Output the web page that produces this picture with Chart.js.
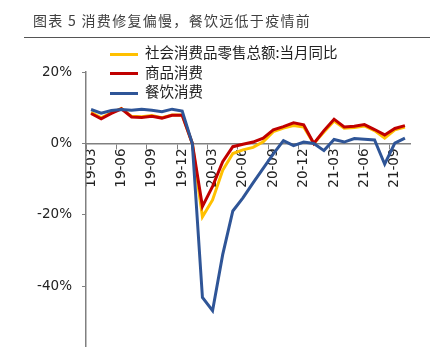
<!DOCTYPE html>
<html>
<head>
<meta charset="utf-8">
<script src="https://cdn.jsdelivr.net/npm/chart.js@4"></script>
<style>
  html, body { margin: 0; padding: 0; background: #fff; overflow: hidden; }
  #page { position: relative; width: 442px; height: 347px; overflow: hidden; }
  #titre {
    position: absolute; left: 24px; top: 9px; width: 406px;
    font: 14px "Noto Sans CJK SC", sans-serif; color: #404040; letter-spacing: 1.3px;
    padding-left: 9px; box-sizing: border-box; white-space: pre;
    border-bottom: 1px solid #555; height: 29px; line-height: 22px;
  }
  #legende { position: absolute; left: 110px; top: 42px; font: 14.5px "Noto Sans CJK SC", sans-serif; color: #222; }
  .ligne { height: 19.5px; line-height: 19.5px; white-space: nowrap; }
  .trait { display: inline-block; width: 28px; height: 3px; vertical-align: middle; margin-right: 7px; }
  #boite { position: absolute; left: 0; top: 0; width: 442px; height: 376px; }
</style>
</head>
<body>
<div id="page">
  <div id="boite"><canvas id="myChart"></canvas></div>
  <div id="titre">图表 5 消费修复偏慢，餐饮远低于疫情前</div>
  <div id="legende"></div>
</div>
<script>
// mois de 19-03 à 21-10
const mois = [
    "19-03","19-04","19-05","19-06","19-07","19-08","19-09","19-10","19-11","19-12",
    "20-01","20-02","20-03","20-04","20-05","20-06","20-07","20-08","20-09","20-10","20-11","20-12",
    "21-01","21-02","21-03","21-04","21-05","21-06","21-07","21-08","21-09","21-10"
];

// 社会消费品零售总额:当月同比 (%)
const dataTotal = [
    8.7, 7.2, 8.6, 9.8, 7.6, 7.5, 7.8, 7.2, 8.0, 8.0,
    0, -20.5, -15.8, -7.5, -2.8, -1.8, -1.1, 0.5, 3.3, 4.3, 5.0, 4.6,
    0, 3.2, 6.3, 4.3, 4.5, 4.9, 3.6, 1.5, 3.8, 4.6
];

// 商品消费 (%)
const dataBiens = [
    8.4, 6.9, 8.4, 9.7, 7.4, 7.3, 7.6, 7.1, 7.9, 7.9,
    0, -17.6, -12.0, -5.1, -0.9, -0.2, 0.4, 1.5, 3.8, 4.7, 5.8, 5.2,
    0, 3.6, 6.8, 4.6, 4.8, 5.3, 3.9, 2.4, 4.2, 5.0
];

// 餐饮消费 (%)
const dataResto = [
    9.5, 8.5, 9.2, 9.5, 9.3, 9.6, 9.3, 8.9, 9.6, 9.1,
    0, -43.1, -46.8, -31.1, -18.9, -15.2, -11.0, -7.0, -2.9, 0.8, -0.6, 0.4,
    0, -2.0, 1.1, 0.4, 1.4, 1.2, 1.0, -5.8, 0.1, 1.5
];

const ticksY = [20, 0, -20, -40, -60];

const series = [
    { label: "社会消费品零售总额:当月同比", couleur: "#FFC000", data: dataTotal, ordre: 2 },
    { label: "商品消费", couleur: "#C00000", data: dataBiens, ordre: 1 },
    { label: "餐饮消费", couleur: "#2F5597", data: dataResto, ordre: 0 }
];

// légende en html
const legende = document.getElementById("legende");
series.forEach(s => {
    let div = document.createElement("div");
    div.className = "ligne";
    div.innerHTML = '<span class="trait" style="background:' + s.couleur + '"></span>' + s.label;
    legende.appendChild(div);
});

const gris = "#808080";
const police = { family: "'DejaVu Sans', sans-serif", size: 13.5 };
const estTrimestre = i => ["03","06","09","12"].includes(mois[i].slice(3));

const config = {
    type: "line",
    data: {
        labels: mois,
        datasets: series.map(s => ({
            label: s.label,
            data: s.data,
            borderColor: s.couleur,
            backgroundColor: s.couleur,
            borderWidth: 3,
            pointRadius: 0,
            tension: 0,
            order: s.ordre
        }))
    },
    options: {
        responsive: true,
        maintainAspectRatio: false,
        animation: false,
        layout: { padding: { top: 72, right: 32, bottom: 4, left: 0 } },
        plugins: {
            legend: { display: false },
            tooltip: { enabled: false }
        },
        scales: {
            x: {
                position: { y: 0 },
                offset: true,
                border: { display: true, color: gris, width: 1.5 },
                grid: {
                    offset: true,
                    drawOnChartArea: false,
                    tickLength: 5,
                    color: ctx => (ctx.index !== undefined && ctx.index < mois.length && estTrimestre(ctx.index)) ? gris : "rgba(0,0,0,0)"
                },
                ticks: {
                    autoSkip: false,
                    maxRotation: 90,
                    minRotation: 90,
                    padding: 0,
                    color: "#222",
                    font: police,
                    callback: function (val, i) { return estTrimestre(i) ? mois[i] : ""; }
                }
            },
            y: {
                min: -60,
                max: 20,
                afterBuildTicks: scale => { scale.ticks = ticksY.map(v => ({ value: v })); },
                afterFit: scale => { scale.width = 86; },
                border: { display: true, color: gris, width: 1.5 },
                grid: { drawOnChartArea: false, tickLength: 4, color: gris },
                ticks: {
                    padding: 10,
                    color: "#222",
                    font: police,
                    callback: v => v === -60 ? "" : v + "%"
                }
            }
        }
    }
};

var ctx = document.getElementById("myChart").getContext("2d");
var myChart = new Chart(ctx, config);
</script>
</body>
</html>
